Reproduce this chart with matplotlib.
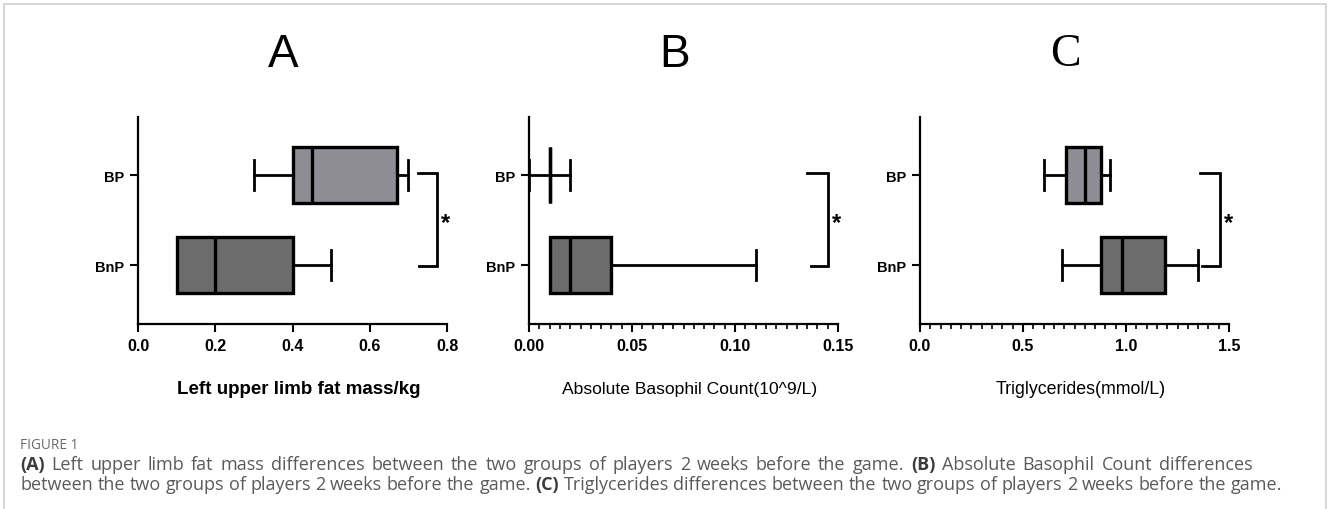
import matplotlib
matplotlib.use("Agg")
import matplotlib.pyplot as plt
from matplotlib.patches import Rectangle
from matplotlib.ticker import MultipleLocator

# Groups (bottom to top on the y axis)
groups = ["BnP", "BP"]

# Five-number summaries per panel: [min, Q1, median, Q3, max]
fat_mass_bnp = [0.10, 0.10, 0.20, 0.40, 0.50]
fat_mass_bp = [0.30, 0.40, 0.45, 0.67, 0.70]

basophil_bnp = [0.01, 0.01, 0.02, 0.04, 0.11]
basophil_bp = [0.00, 0.01, 0.01, 0.01, 0.02]

triglyc_bnp = [0.69, 0.88, 0.98, 1.19, 1.35]
triglyc_bp = [0.60, 0.71, 0.80, 0.88, 0.92]

panel_letters = ["A", "B", "C"]
x_labels = ["Left upper limb fat mass/kg",
            "Absolute Basophil Count(10^9/L)",
            "Triglycerides(mmol/L)"]
x_ticks_a = [0.0, 0.2, 0.4, 0.6, 0.8]
x_ticks_b = [0.00, 0.05, 0.10, 0.15]
x_ticks_c = [0.0, 0.5, 1.0, 1.5]
significance = "*"

caption_head = "FIGURE 1"
caption_line1 = [("(A)", True),
                 ("Left upper limb fat mass differences between the two groups of players 2 weeks before the game.", False),
                 ("(B)", True),
                 ("Absolute Basophil Count differences", False)]
caption_line2 = [("between the two groups of players 2 weeks before the game.", False),
                 ("(C)", True),
                 ("Triglycerides differences between the two groups of players 2 weeks before the game.", False)]

COLOR_BP = "#8e8c94"
COLOR_BNP = "#6c6c6c"
SANS = "Liberation Sans"


def stats(five, label):
    lo, q1, med, q3, hi = five
    return dict(whislo=lo, q1=q1, med=med, q3=q3, whishi=hi, fliers=[], label=label)


fig = plt.figure(figsize=(13.28, 5.10), dpi=100)
W, H = 1328, 510

# light frame around the figure (open at the bottom edge)
fig.patches.append(Rectangle((4 / W, -0.05), 1322 / W, 1.05 - 5 / H,
                             transform=fig.transFigure, fill=False,
                             edgecolor="#cfcfcf", linewidth=1.2))

panels = [
    dict(left=138, data=(fat_mass_bnp, fat_mass_bp), ticks=x_ticks_a, fmt="{:.1f}",
         minor=None, bracket=(0.725, 0.728, 0.774), title_font=SANS,
         label_size=13.5, label_bold=True),
    dict(left=529, data=(basophil_bnp, basophil_bp), ticks=x_ticks_b, fmt="{:.2f}",
         minor=0.005, bracket=(0.135, 0.137, 0.145), title_font=SANS,
         label_size=12.6, label_bold=False),
    dict(left=920, data=(triglyc_bnp, triglyc_bp), ticks=x_ticks_c, fmt="{:.1f}",
         minor=0.05, bracket=(1.36, 1.37, 1.456), title_font="Liberation Serif",
         label_size=12.8, label_bold=False),
]

for i, p in enumerate(panels):
    ax = fig.add_axes([p["left"] / W, 1 - 325 / H, 309 / W, 207 / H])
    bnp, bp = p["data"]
    arts = ax.bxp([stats(bnp, groups[0]), stats(bp, groups[1])],
                  positions=[1, 2], widths=0.62, capwidths=0.33,
                  orientation="horizontal", patch_artist=True, showfliers=False,
                  boxprops=dict(linewidth=2.4, edgecolor="black"),
                  medianprops=dict(color="black", linewidth=2.4),
                  whiskerprops=dict(color="black", linewidth=2.0),
                  capprops=dict(color="black", linewidth=2.0))
    arts["boxes"][0].set_facecolor(COLOR_BNP)
    arts["boxes"][1].set_facecolor(COLOR_BP)
    for a in arts["caps"] + arts["whiskers"] + arts["boxes"] + arts["medians"]:
        a.set_clip_on(False)

    ax.set_xlim(p["ticks"][0], p["ticks"][-1])
    ax.set_ylim(0.345, 2.645)
    ax.set_xticks(p["ticks"])
    ax.set_xticklabels([p["fmt"].format(t) for t in p["ticks"]],
                       fontfamily=SANS, fontweight="bold", fontsize=11.5)
    if p["minor"]:
        ax.xaxis.set_minor_locator(MultipleLocator(p["minor"]))
    ax.set_yticks([1, 2])
    ax.set_yticklabels(groups, fontfamily=SANS, fontweight="bold", fontsize=10.5)
    ax.tick_params(axis="both", which="major", direction="out", length=6, width=1.5,
                   color="black", pad=4)
    ax.tick_params(axis="x", which="minor", direction="out", length=3.5, width=1.2)
    for s in ("top", "right"):
        ax.spines[s].set_visible(False)
    for s in ("left", "bottom"):
        ax.spines[s].set_linewidth(1.6)
    ax.set_facecolor("none")

    # significance bracket between the groups
    x_top, x_bot, x_v = p["bracket"]
    ax.plot([x_top, x_v, x_v, x_bot], [2.02, 2.02, 0.99, 0.99], color="black",
            linewidth=2.0, clip_on=False, solid_joinstyle="miter")
    ax.text(x_v + (p["ticks"][-1] - p["ticks"][0]) * 0.028, 1.47, significance,
            fontsize=17, fontweight="bold", fontfamily=SANS,
            ha="center", va="center", clip_on=False)

    # panel letter
    ax.text(0.47, 1.0 + 63 / 207, panel_letters[i], transform=ax.transAxes,
            ha="center", va="center", fontsize=33, fontfamily=p["title_font"])

    # axis title
    ax.text(0.52, -65 / 207, x_labels[i], transform=ax.transAxes,
            ha="center", va="center", fontsize=p["label_size"], fontfamily=SANS,
            fontweight="bold" if p["label_bold"] else "normal")

# caption
CAP = "Open Sans"
CAP_SIZE = 13.0
fig.text(20 / W, 1 - 446 / H, caption_head, fontsize=9.8, color="#6a6a6a",
         fontfamily=CAP, va="center", ha="left")

renderer = fig.canvas.get_renderer()


def caption_words(runs):
    words = []
    for txt, bold in runs:
        for w in txt.split(" "):
            if w:
                words.append((w, bold))
    return words


def space_width():
    a = fig.text(0, 0, "a a", fontsize=CAP_SIZE, fontfamily=CAP)
    b = fig.text(0, 0, "aa", fontsize=CAP_SIZE, fontfamily=CAP)
    sw = a.get_window_extent(renderer=renderer).width - b.get_window_extent(renderer=renderer).width
    a.remove()
    b.remove()
    return sw


def draw_line(runs, x0, y, x1=None):
    """Lay out caption words left to right; stretch gaps to reach x1 if given."""
    items = []
    for w, bold in caption_words(runs):
        t = fig.text(0, y, w, fontsize=CAP_SIZE,
                     color="#3c3c3c" if bold else "#5a5a5a",
                     fontfamily=CAP, fontweight="bold" if bold else "normal",
                     va="center", ha="left")
        items.append((t, t.get_window_extent(renderer=renderer).width))
    gap = space_width()
    total = sum(w for _, w in items)
    if x1 is not None and len(items) > 1:
        gap = (x1 - x0 - total) / (len(items) - 1)
    x = x0
    for t, w in items:
        t.set_x(x / W)
        x += w + gap
    return x - gap


end2 = draw_line(caption_line2, 20, 1 - 485 / H)
draw_line(caption_line1, 20, 1 - 465 / H, x1=end2 - 30)

fig.savefig("out.png", dpi=100, facecolor="white")
